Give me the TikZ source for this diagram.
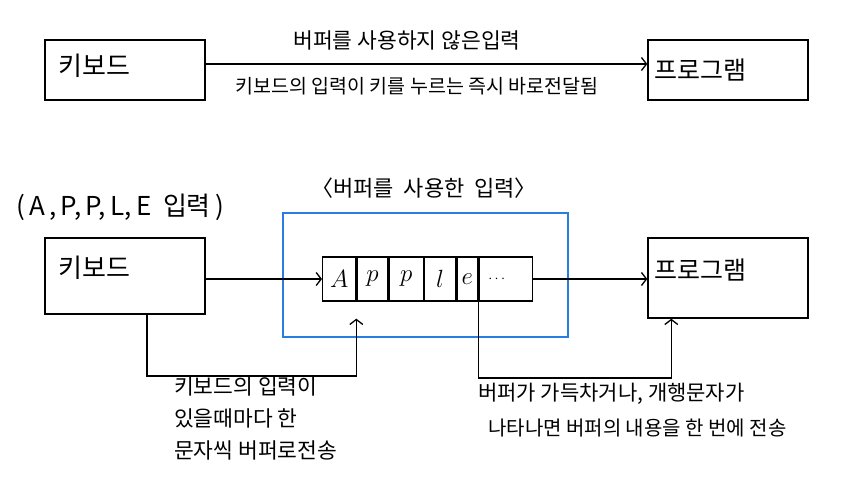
\documentclass[tikz,border=0pt]{standalone}
\usepackage{fontspec}
\newfontfamily\kr{Noto Sans CJK KR}
\usetikzlibrary{arrows.meta}
\definecolor{bufblue}{RGB}{40,125,225}
\begin{document}
\begin{tikzpicture}[x=1pt,y=-1pt,
  box/.style={draw, line width=1.4pt, minimum width=160pt, minimum height=60pt, inner sep=0pt},
  lbl/.style={font=\kr\fontsize{16}{18}\selectfont, inner sep=0pt},
  big/.style={font=\kr\fontsize{25}{28}\selectfont, inner sep=0pt, anchor=west},
  cell/.style={draw, line width=1.3pt, minimum height=44pt, inner sep=0pt, anchor=west, font=\fontsize{24}{26}\selectfont},
  arr/.style={-{Straight Barb[length=5pt,width=13pt]}, line width=1.3pt},
  conn/.style={line width=1.3pt}]
\useasboundingbox (0,0) rectangle (843,489);
\fill[white] (0,0) rectangle (843,489);

% top
\node[box] (kb1) at (125,70) {};
\node[big, font=\kr\fontsize{26}{28}\selectfont] (kb1t) at (58,66) {키보드};
\node[box] (pg1) at (728,70) {};
\node[big] (pg1t) at (654,70) {프로그램};
\draw[arr] ([yshift=6pt]kb1.east) -- ([yshift=6pt]pg1.west);
\node[lbl, font=\kr\fontsize{21.5}{22}\selectfont] (t1) at (407,40) {버퍼를 사용하지 않은입력};
\node[lbl, font=\kr\fontsize{19.5}{22}\selectfont] (t2) at (417,86) {키보드의 입력이 키를 누르는 즉시 바로전달됨};

% bottom
\node[lbl, font=\kr\fontsize{26}{28}\selectfont] (apple) at (120,207) {(\,A\,,\,P,\,P,\,L,\,E\ \ 입력\,)};
\node[box, minimum height=76pt] (kb2) at (125,276) {};
\node[big, font=\kr\fontsize{26}{28}\selectfont] (kb2t) at (58,268) {키보드};
\node[box, minimum height=80pt] (pg2) at (728,278) {};
\node[big] (pg2t) at (654,270) {프로그램};
\node[draw=bufblue, line width=1.5pt, minimum width=285pt, minimum height=124pt, inner sep=0pt] (buf) at (425.5,275) {};
\node[lbl, font=\kr\fontsize{22}{24}\selectfont] (bufT) at (424,188) {〈버퍼를\ \ 사용한\ \ 입력〉};

\node[cell, minimum width=33pt] (c1) at (322,279) {$A$};
\node[cell, minimum width=31pt] (c2) at (c1.east) {$p$};
\node[cell, minimum width=34pt] (c3) at (c2.east) {$p$};
\node[cell, minimum width=31pt] (c4) at (c3.east) {$l$};
\node[cell, minimum width=21pt] (c5) at (c4.east) {$e$};
\node[cell, minimum width=53pt, font=\fontsize{14}{16}\selectfont] (c6) at (c5.east) {\hspace*{-18pt}$\cdots$};

\draw[arr] (kb2.east |- c1.west) -- (c1.west);
\draw[arr] (c6.east) -- (pg2.west |- c6.east);

\coordinate (l1) at (147,376);
\draw[arr] (kb2.south -| l1) -- (l1) -| ([yshift=-17pt]c1.south east);
\coordinate (r1) at (471,378);
\draw[arr] (c5.south east) -- (c5.south east |- r1) -| ([xshift=24pt]pg2.south west);

\node[lbl, align=left, anchor=west, font=\kr\fontsize{21.5}{32}\selectfont] (n1) at (174,418) {키보드의 입력이\\있을때마다 한\\문자씩 버퍼로전송};
\node[lbl, align=left, anchor=west, font=\kr\fontsize{20}{35}\selectfont] (n2) at (478,410) {{\fontsize{21}{35}\selectfont 버퍼가 가득차거나, 개행문자가}\\\hspace*{10pt}나타나면 버퍼의 내용을 한 번에 전송};
\end{tikzpicture}
\end{document}
